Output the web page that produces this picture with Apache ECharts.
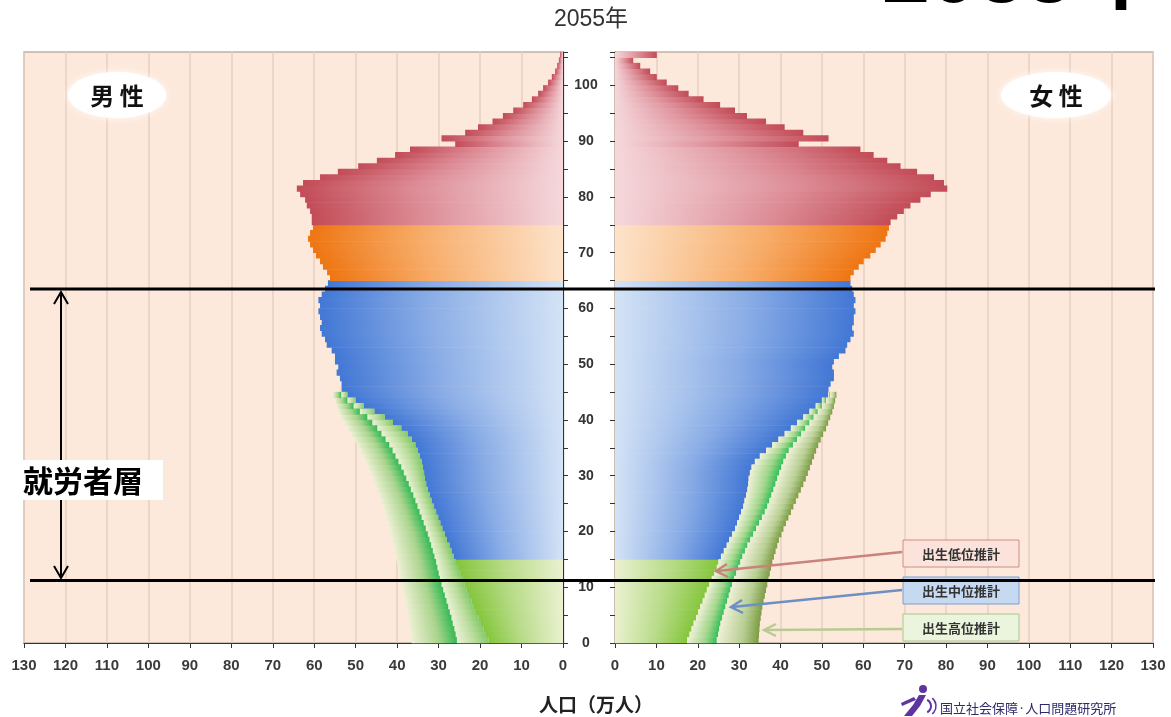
<!DOCTYPE html>
<html>
<head>
<meta charset="utf-8">
<title>2055年 人口ピラミッド</title>
<script src="https://cdn.jsdelivr.net/npm/echarts@6/dist/echarts.min.js"></script>
<style>
  html, body { margin: 0; padding: 0; background: #ffffff; }
  #main { width: 1171px; height: 717px; }
</style>
</head>
<body>
<div id="main"></div>
<script>
// Population by single year of age, 0..105 (the last bar is 105+), unit: 万人.
// Base values follow the low-fertility projection; ages 0-44 also carry the
// medium and high fertility projections.
const maleBase = [
  18, 18.6, 19.2, 19.8, 20.4, 21, 21.5, 22.1, 22.7, 23.2,
  23.8, 24.3, 24.8, 25.3, 25.8, 26.4, 26.9, 27.4, 28, 28.5,
  29.1, 29.6, 30.1, 30.6, 31.1, 31.6, 32.1, 32.6, 33, 33.3,
  33.5, 33.8, 34.1, 34.5, 35, 35.6, 36.5, 37.5, 39, 41,
  43, 45.5, 48, 50, 52, 53.4, 53.4, 53.8, 54.6, 54.2,
  55, 55, 55.8, 57, 57.4, 58.2, 58.6, 58.2, 58.6, 59,
  58.6, 59, 58.2, 57.4, 56.7, 56.2, 56.9, 57.9, 58.6, 59.6,
  60.3, 61, 61.5, 61, 60.3, 60.6, 60.6, 61, 61.8, 62.2,
  63.4, 64.2, 62.7, 58.6, 54.3, 49.4, 44.9, 40.5, 36.9, 26,
  29.3, 23.6, 20.5, 17, 14.5, 12, 9.6, 7.5, 6, 4.8,
  3.6, 2.7, 1.9, 1.4, 1, 0.7
];
const femaleBase = [
  17.4, 18, 18.5, 19, 19.6, 20.1, 20.6, 21.2, 21.7, 22.2,
  22.8, 23.4, 24, 24.6, 25, 25.6, 26.3, 27, 27.6, 28.3,
  29, 29.5, 30, 30.5, 31, 31.3, 31.7, 32, 32.2, 32.3,
  32.6, 33, 33.8, 35, 36.5, 38, 39.5, 41, 42.5, 44,
  45.5, 47, 48.5, 50, 51.5, 51.6, 52.1, 52.9, 52.9, 52.5,
  52.9, 54.1, 55.7, 56.1, 56.9, 57.7, 57.3, 57.7, 57.7, 58.1,
  57.7, 58.1, 57.7, 57.3, 56.9, 56.9, 57.7, 58.9, 60.1, 61.7,
  63, 64.2, 65.4, 65.8, 66.2, 66.6, 68.2, 69.8, 71.4, 73.8,
  76.3, 80.3, 79.5, 77.1, 73, 69, 65.8, 62.5, 59.3, 44.4,
  51.6, 45.5, 41, 36.5, 31.9, 29, 25.4, 21.4, 17.8, 15.3,
  12.5, 10.1, 8.5, 6.1, 4.4, 10.1
];
// Ages 0..44
const maleMid = [
  25.6, 25.9, 26.2, 26.6, 26.9, 27.3, 27.7, 28.1, 28.5, 28.9,
  29.3, 29.7, 30, 30.3, 30.6, 31, 31.4, 31.8, 32.2, 32.6,
  33.1, 33.6, 34.1, 34.6, 35.1, 35.6, 36.1, 36.7, 37.2, 37.8,
  38.4, 39, 39.7, 40.4, 41.1, 41.9, 42.8, 43.8, 44.8, 46,
  47.2, 49, 50.5, 52, 53.5
];
const maleHigh = [
  36.5, 36.7, 36.9, 37.1, 37.3, 37.6, 37.8, 38.1, 38.4, 38.7,
  39, 39.3, 39.5, 39.8, 40, 40.3, 40.6, 40.9, 41.2, 41.5,
  41.8, 42.2, 42.6, 43, 43.4, 43.9, 44.4, 44.9, 45.4, 45.9,
  46.4, 47, 47.6, 48.2, 48.9, 49.6, 50.4, 51.2, 52, 52.8,
  53.6, 54.2, 54.6, 55, 55.5
];
const femaleMid = [
  24.6, 24.9, 25.2, 25.5, 25.9, 26.3, 26.7, 27.1, 27.5, 27.9,
  28.3, 28.8, 29.3, 29.8, 30.3, 30.8, 31.4, 32, 32.7, 33.4,
  34.1, 34.8, 35.5, 36.2, 36.8, 37.3, 37.8, 38.3, 38.8, 39.2,
  39.7, 40.2, 40.7, 41.3, 42, 43, 44, 45, 46, 47,
  48, 49, 50, 51, 52
];
const femaleHigh = [
  34.7, 34.8, 34.9, 35, 35.2, 35.4, 35.6, 35.9, 36.2, 36.5,
  36.8, 37.1, 37.4, 37.7, 38, 38.4, 38.8, 39.2, 39.6, 40.2,
  40.7, 41.3, 41.9, 42.5, 43.1, 43.7, 44.3, 44.9, 45.5, 46.1,
  46.6, 47.1, 47.6, 48.1, 48.6, 49.1, 49.7, 50.3, 51, 51.5,
  52, 52.5, 52.9, 53.2, 53.5
];

const scenarioLabels = ['出生低位推計', '出生中位推計', '出生高位推計'];
const sideLabels = ['男 性', '女 性'];
const titleText = '2055年';
const axisName = '人口（万人）';
const bandLabel = '就労者層';

// Age-group colours: [outer edge, middle, near the centre axis]
function groupColors(age) {
  if (age >= 75) return ['#c24c57', '#dd8d97', '#f5d8dc'];
  if (age >= 65) return ['#ee7512', '#f7ad6a', '#fde3ca'];
  if (age >= 15) return ['#4277d5', '#8aade6', '#d4e3f6'];
  return ['#84c63c', '#b7db87', '#eaf1d0'];
}

function grad(stops) {
  return new echarts.graphic.LinearGradient(0, 0, 1, 0,
    stops.map(function (s) { return { offset: s[0], color: s[1] }; }));
}

function barRect(api, v0, v1, age, fill) {
  const a = api.coord([v0, age]);
  const b = api.coord([v1, age + 1]);
  const x = Math.min(a[0], b[0]);
  const y = Math.min(a[1], b[1]);
  return {
    type: 'rect',
    shape: { x: x, y: y - 0.3, width: Math.abs(b[0] - a[0]), height: Math.abs(b[1] - a[1]) + 0.6 },
    style: { fill: fill }
  };
}

// side: 'L' draws from the outer (left) edge, 'R' mirrored
function baseRender(side) {
  return function (params, api) {
    const age = api.value(0);
    const c = groupColors(age);
    const fill = side === 'L'
      ? grad([[0, c[0]], [0.45, c[1]], [1, c[2]]])
      : grad([[0, c[2]], [0.55, c[1]], [1, c[0]]]);
    return barRect(api, api.value(1), api.value(2), age, fill);
  };
}

function bandRender(stops) {
  return function (params, api) {
    return barRect(api, api.value(1), api.value(2), api.value(0), grad(stops));
  };
}

const leftInner = [[0, '#eaf2d6'], [0.55, '#bcdd9e'], [1, '#86ca6c']];
const leftOuter = [[0, '#eef0d4'], [0.6, '#a9d48d'], [1, '#35ba55']];
const rightInner = [[0, '#f0f1d8'], [0.6, '#a3d68c'], [1, '#33bf58']];
const rightOuter = [[0, '#f0f0d8'], [0.6, '#b8cf94'], [1, '#7c9c44']];

const baseData = function (arr) { return arr.map(function (v, i) { return [i, 0, v]; }); };
const bandData = function (from, to) { return to.map(function (v, i) { return [i, from[i], v]; }); };

const chart = echarts.init(document.getElementById('main'), null, { renderer: 'canvas' });

const plotBg = '#fde9dc';
const gridLine = '#e6cfbf';
const fontLatin = "'Liberation Sans', Arial, 'Noto Sans CJK JP', sans-serif";
const fontJP = "'Noto Sans CJK JP', 'Liberation Sans', sans-serif";

function popAxis(gridIndex, inverse) {
  return {
    type: 'value', gridIndex: gridIndex, inverse: inverse,
    min: 0, max: 130, interval: 10,
    axisLine: { show: true, onZero: false, lineStyle: { color: '#333', width: 1.2 } },
    axisTick: { show: true, length: 5, lineStyle: { color: '#333' } },
    axisLabel: { margin: 15, fontSize: 15, fontWeight: 'bold', color: '#3a3a3a', fontFamily: fontLatin },
    splitLine: { show: true, lineStyle: { color: gridLine, width: 1.5 } }
  };
}

function ageAxis(gridIndex, position, showLabels) {
  return {
    type: 'value', gridIndex: gridIndex, position: position,
    min: 0, max: 106, interval: 5,
    axisLine: { show: true, lineStyle: { color: '#333', width: 1.2 } },
    axisTick: { show: true, length: 5, lineStyle: { color: '#333' } },
    axisLabel: {
      show: showLabels, margin: 23, align: 'center',
      fontSize: 14, fontWeight: 'bold', color: '#333', fontFamily: fontLatin,
      formatter: function (v) { return v % 10 === 0 && v <= 100 ? String(v) : ''; }
    },
    splitLine: { show: false }
  };
}

const option = {
  backgroundColor: '#ffffff',
  animation: false,
  grid: [
    { left: 24, right: 608, top: 52, bottom: 74, show: true, backgroundColor: plotBg, borderColor: '#bdb2a8', borderWidth: 1.5 },
    { left: 615, right: 18, top: 52, bottom: 74, show: true, backgroundColor: plotBg, borderColor: '#bdb2a8', borderWidth: 1.5 }
  ],
  xAxis: [popAxis(0, true), popAxis(1, false)],
  yAxis: [ageAxis(0, 'right', true), ageAxis(1, 'left', false)],
  series: [
    { name: '男性', type: 'custom', xAxisIndex: 0, yAxisIndex: 0, encode: { x: [1, 2], y: 0 },
      renderItem: baseRender('L'), data: baseData(maleBase), z: 2 },
    { name: scenarioLabels[1] + '（男性）', type: 'custom', xAxisIndex: 0, yAxisIndex: 0, encode: { x: [1, 2], y: 0 },
      renderItem: bandRender(leftInner), data: bandData(maleBase, maleMid), z: 3 },
    { name: scenarioLabels[2] + '（男性）', type: 'custom', xAxisIndex: 0, yAxisIndex: 0, encode: { x: [1, 2], y: 0 },
      renderItem: bandRender(leftOuter), data: bandData(maleMid, maleHigh), z: 3 },
    { name: '女性', type: 'custom', xAxisIndex: 1, yAxisIndex: 1, encode: { x: [1, 2], y: 0 },
      renderItem: baseRender('R'), data: baseData(femaleBase), z: 2 },
    { name: scenarioLabels[1] + '（女性）', type: 'custom', xAxisIndex: 1, yAxisIndex: 1, encode: { x: [1, 2], y: 0 },
      renderItem: bandRender(rightInner), data: bandData(femaleBase, femaleMid), z: 3 },
    { name: scenarioLabels[2] + '（女性）', type: 'custom', xAxisIndex: 1, yAxisIndex: 1, encode: { x: [1, 2], y: 0 },
      renderItem: bandRender(rightOuter), data: bandData(femaleMid, femaleHigh), z: 3 }
  ],
  graphic: [
    // year heading
    { type: 'text', x: 591, y: 20, z: 50,
      style: { text: titleText, font: "23px " + fontLatin, fill: '#333', align: 'center', verticalAlign: 'middle' } },
    // large heading running off the top edge
    { type: 'text', x: 882, y: -22, z: 50,
      style: { text: titleText, font: "bold 86px " + fontLatin, fill: '#000', align: 'left', verticalAlign: 'middle' } },
    // sex labels
    { type: 'ellipse', shape: { cx: 117, cy: 95, rx: 49, ry: 23 }, z: 40,
      style: { fill: '#ffffff', shadowBlur: 6, shadowColor: 'rgba(255,255,255,0.9)' } },
    { type: 'text', x: 117, y: 96, z: 41,
      style: { text: sideLabels[0], font: "bold 24px " + fontJP, fill: '#111', align: 'center', verticalAlign: 'middle' } },
    { type: 'ellipse', shape: { cx: 1056, cy: 95, rx: 55, ry: 23 }, z: 40,
      style: { fill: '#ffffff', shadowBlur: 6, shadowColor: 'rgba(255,255,255,0.9)' } },
    { type: 'text', x: 1056, y: 96, z: 41,
      style: { text: sideLabels[1], font: "bold 24px " + fontJP, fill: '#111', align: 'center', verticalAlign: 'middle' } },
    // working-age band
    { type: 'line', shape: { x1: 30, y1: 289, x2: 1155, y2: 289 }, z: 60, style: { stroke: '#000', lineWidth: 3 } },
    { type: 'line', shape: { x1: 30, y1: 580.5, x2: 1155, y2: 580.5 }, z: 60, style: { stroke: '#000', lineWidth: 3 } },
    { type: 'line', shape: { x1: 61, y1: 292, x2: 61, y2: 578 }, z: 60, style: { stroke: '#000', lineWidth: 2 } },
    { type: 'polyline', shape: { points: [[54, 304], [61, 292], [68, 304]] }, z: 60, style: { stroke: '#000', lineWidth: 2, fill: null } },
    { type: 'polyline', shape: { points: [[54, 566], [61, 578], [68, 566]] }, z: 60, style: { stroke: '#000', lineWidth: 2, fill: null } },
    { type: 'rect', shape: { x: 20, y: 460, width: 143, height: 40 }, z: 61, style: { fill: '#ffffff' } },
    { type: 'text', x: 23, y: 481, z: 62,
      style: { text: bandLabel, font: "bold 30px " + fontJP, fill: '#000', align: 'left', verticalAlign: 'middle' } },
    // scenario notes with arrows
    { type: 'line', shape: { x1: 902, y1: 552, x2: 717, y2: 571 }, z: 45, style: { stroke: '#c9827c', lineWidth: 2.5 } },
    { type: 'polyline', shape: { points: [[727, 564], [716, 571], [728, 577]] }, z: 45, style: { stroke: '#c9827c', lineWidth: 2.5, fill: null } },
    { type: 'line', shape: { x1: 902, y1: 590, x2: 732, y2: 607 }, z: 45, style: { stroke: '#6d8fc4', lineWidth: 2.5 } },
    { type: 'polyline', shape: { points: [[742, 600], [731, 607], [743, 613]] }, z: 45, style: { stroke: '#6d8fc4', lineWidth: 2.5, fill: null } },
    { type: 'line', shape: { x1: 902, y1: 629, x2: 765, y2: 630 }, z: 45, style: { stroke: '#b9cb92', lineWidth: 2.5 } },
    { type: 'polyline', shape: { points: [[776, 624], [764, 630], [776, 636]] }, z: 45, style: { stroke: '#b9cb92', lineWidth: 2.5, fill: null } },
    { type: 'rect', shape: { x: 903, y: 540, width: 116, height: 27 }, z: 46, style: { fill: '#fbe3dc', stroke: '#cf8c84', lineWidth: 1 } },
    { type: 'text', x: 961, y: 554, z: 47,
      style: { text: scenarioLabels[0], font: "bold 13px " + fontJP, fill: '#333', align: 'center', verticalAlign: 'middle' } },
    { type: 'rect', shape: { x: 903, y: 577, width: 116, height: 27 }, z: 46, style: { fill: '#c5d9f1', stroke: '#7f9dcc', lineWidth: 1 } },
    { type: 'text', x: 961, y: 591, z: 47,
      style: { text: scenarioLabels[1], font: "bold 13px " + fontJP, fill: '#333', align: 'center', verticalAlign: 'middle' } },
    { type: 'rect', shape: { x: 903, y: 614, width: 116, height: 27 }, z: 46, style: { fill: '#ebf4dd', stroke: '#a9c88c', lineWidth: 1 } },
    { type: 'text', x: 961, y: 628, z: 47,
      style: { text: scenarioLabels[2], font: "bold 13px " + fontJP, fill: '#333', align: 'center', verticalAlign: 'middle' } },
    // axis title
    { type: 'text', x: 596, y: 705, z: 50,
      style: { text: axisName, font: "bold 19px " + fontJP, fill: '#222', align: 'center', verticalAlign: 'middle' } },
    // institute mark
    { type: 'circle', shape: { cx: 923, cy: 689, r: 4 }, z: 50, style: { fill: '#5e34a0' } },
    { type: 'polygon', shape: { points: [[919, 695], [926, 695], [920, 706], [912, 716], [904, 716], [913, 705]] }, z: 50, style: { fill: '#5e34a0' } },
    { type: 'polygon', shape: { points: [[916, 700], [902, 706], [901, 703], [914, 697]] }, z: 50, style: { fill: '#5e34a0' } },
    { type: 'arc', shape: { cx: 924, cy: 706, r: 7, startAngle: -1.1, endAngle: 1.1 }, z: 50, style: { stroke: '#5e34a0', lineWidth: 2, fill: null } },
    { type: 'arc', shape: { cx: 926, cy: 706, r: 10, startAngle: -0.9, endAngle: 0.9 }, z: 50, style: { stroke: '#5e34a0', lineWidth: 1.5, fill: null } },
    { type: 'text', x: 940, y: 708, z: 50,
      style: { text: '国立社会保障·人口問題研究所', font: "13px " + fontJP, fill: '#2b2a6b', align: 'left', verticalAlign: 'middle' } }
  ]
};

chart.setOption(option);
</script>
</body>
</html>
